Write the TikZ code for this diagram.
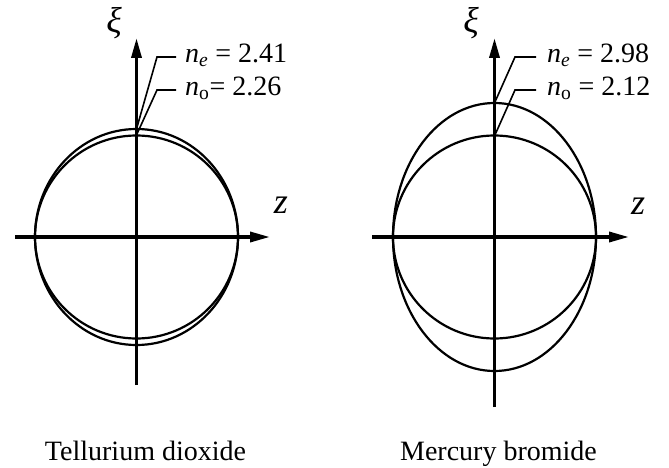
\documentclass[tikz,border=0pt]{standalone}
\usepackage{fontspec}
\setmainfont{Liberation Serif}
\usetikzlibrary{positioning,arrows.meta}
\tikzset{
  eixo/.style={line width=3.4pt, -{Triangle[length=20pt,width=10pt]}},
  elipse/.style={line width=2.2pt},
  guia/.style={line width=1.6pt},
  rotulo/.style={font=\fontsize{28}{32}\selectfont, inner sep=0pt, anchor=base west},
  var/.style={font=\fontsize{36}{40}\selectfont\itshape, inner sep=0pt},
  legenda/.style={font=\fontsize{28}{32}\selectfont, inner sep=0pt, anchor=base}
}
\begin{document}
\begin{tikzpicture}[x=1pt,y=-1pt]
  \useasboundingbox (0,0) rectangle (669,468);

  % Dioxido de telurio
  \coordinate (oA) at (136.5,237);
  \coordinate (topoEA) at (136.5,129);
  \coordinate (topoOA) at (136.5,135);
  \draw[eixo] (15,237) -- (270,237);
  \draw[eixo] (136.5,385) -- (136.5,38);
  \draw[elipse] (oA) circle [x radius=101.5, y radius=101.5];
  \draw[elipse] (oA) circle [x radius=101.5, y radius=108];
  \node[var] (xiA) at (114,23) {ξ};
  \node[var] (zA) at (281,205) {z};
  \node[rotulo] (neA) at (185,63) {\textit{n}\textsubscript{\textit{e}} = 2.41};
  \node[rotulo] (noA) at (185,96) {\textit{n}\textsubscript{o}= 2.26};
  \coordinate (kEA) at (157,57);
  \coordinate (kOA) at (157,90);
  \draw[guia] ([xshift=-9pt]kEA -| neA.west) -- (kEA) -- (topoEA);
  \draw[guia] ([xshift=-9pt]kOA -| noA.west) -- (kOA) -- (topoOA);
  \node[legenda] (legA) at (145.5,460) {Tellurium dioxide};

  % Brometo de mercurio
  \coordinate (oB) at (494.5,237);
  \coordinate (topoEB) at (494.5,103);
  \coordinate (topoOB) at (494.5,136);
  \draw[eixo] (372,237) -- (629,237);
  \draw[eixo] (494.5,407) -- (494.5,38);
  \draw[elipse] (oB) circle [x radius=101.5, y radius=101.5];
  \draw[elipse] (oB) circle [x radius=101.5, y radius=134];
  \node[var] (xiB) at (471,23) {ξ};
  \node[var] (zB) at (638,206) {z};
  \node[rotulo] (neB) at (547,63) {\textit{n}\textsubscript{\textit{e}} = 2.98};
  \node[rotulo] (noB) at (547,96) {\textit{n}\textsubscript{o} = 2.12};
  \coordinate (kEB) at (515,57);
  \coordinate (kOB) at (515,90);
  \draw[guia] ([xshift=-11pt]kEB -| neB.west) -- (kEB) -- (topoEB);
  \draw[guia] ([xshift=-11pt]kOB -| noB.west) -- (kOB) -- (topoOB);
  \node[legenda] (legB) at (498.5,460) {Mercury bromide};
\end{tikzpicture}
\end{document}
